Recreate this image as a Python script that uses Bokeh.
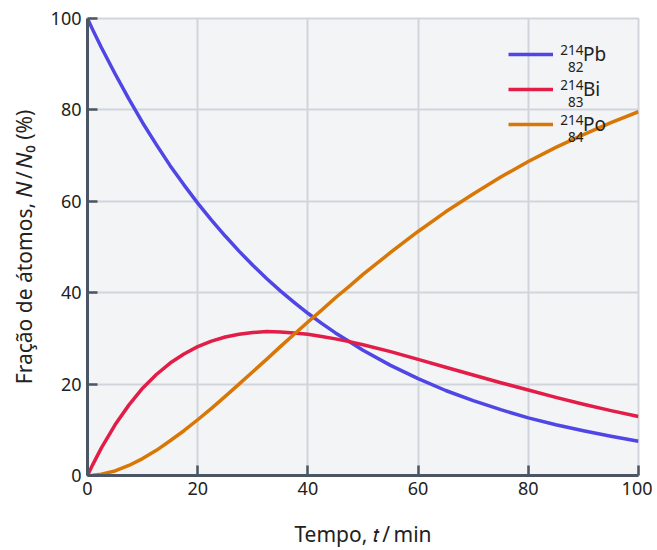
from bokeh.plotting import figure
from bokeh.models import Range1d, Legend, LegendItem, Label, FixedTicker
from bokeh.embed import file_html
from bokeh.resources import INLINE

# Time (min)
t_min = [0, 1, 2.5, 5, 7.5, 10, 12.5, 15, 17.5, 20, 22.5, 25, 27.5, 30, 32.5, 35, 37.5, 40,
         42.5, 45, 47.5, 50, 55, 60, 65, 70, 75, 80, 85, 90, 95, 100]
# Fraction of atoms N/N0 (%)
pb214 = [100, 97.4, 93.7, 87.9, 82.4, 77.2, 72.4, 67.8, 63.6, 59.6, 55.9, 52.4, 49.1, 46.0, 43.1, 40.4, 37.9, 35.5,
         33.3, 31.2, 29.3, 27.4, 24.1, 21.2, 18.6, 16.4, 14.4, 12.6, 11.1, 9.8, 8.6, 7.5]
bi214 = [0, 2.5, 6.0, 11.1, 15.4, 19.1, 22.1, 24.6, 26.6, 28.2, 29.4, 30.3, 30.9, 31.3, 31.5, 31.4, 31.2, 30.9,
         30.4, 29.9, 29.3, 28.6, 27.1, 25.4, 23.7, 22.0, 20.3, 18.7, 17.1, 15.6, 14.2, 12.9]
po214 = [0, 0.04, 0.3, 1.0, 2.2, 3.7, 5.5, 7.6, 9.8, 12.2, 14.7, 17.3, 20.0, 22.7, 25.4, 28.2, 30.9, 33.6,
         36.2, 38.9, 41.4, 44.0, 48.8, 53.4, 57.7, 61.6, 65.3, 68.7, 71.8, 74.6, 77.2, 79.6]

series_names = ["Pb", "Bi", "Po"]
mass_numbers = ["214", "214", "214"]
atomic_numbers = ["82", "83", "84"]
colors = ["#4F46E5", "#E11D48", "#D97706"]
x_ticks = [0, 20, 40, 60, 80, 100]
y_ticks = [0, 20, 40, 60, 80, 100]

FONT = "Noto Sans"
AXIS_C = "#4B5563"
GRID_C = "#D1D5DB"

p = figure(frame_width=551, frame_height=457,
           min_border_left=87, min_border_right=14, min_border_top=18, min_border_bottom=72,
           x_range=Range1d(0, 100), y_range=Range1d(0, 100),
           output_backend="svg", toolbar_location=None)
p.background_fill_color = "#F3F4F6"
p.border_fill_color = "white"
p.outline_line_color = GRID_C
p.outline_line_width = 2

p.xaxis.ticker = FixedTicker(ticks=x_ticks)
p.yaxis.ticker = FixedTicker(ticks=y_ticks)
for ax in (p.xaxis, p.yaxis):
    ax.axis_line_color = AXIS_C
    ax.axis_line_width = 3
    ax.major_tick_line_color = AXIS_C
    ax.major_tick_line_width = 2.5
    ax.major_tick_in = 10
    ax.major_tick_out = 0
    ax.minor_tick_line_color = None
    ax.major_label_text_font = FONT
    ax.major_label_text_font_size = "18px"
    ax.major_label_text_color = "#222222"
    ax.major_label_standoff = 6
    ax.axis_label_text_font = FONT
    ax.axis_label_text_font_size = "21px"
    ax.axis_label_text_font_style = "normal"
    ax.axis_label_text_color = "#222222"

p.xaxis.axis_label = "Tempo, \U0001D461\u2009/\u2009min"
p.xaxis.axis_label_standoff = 22
p.yaxis.axis_label = "Fração de átomos, \U0001D441\u2009/\u2009\U0001D441\u2080 (%)"
p.yaxis.axis_label_standoff = 10

p.xgrid.grid_line_color = GRID_C
p.ygrid.grid_line_color = GRID_C
p.xgrid.grid_line_width = 2
p.ygrid.grid_line_width = 2

renderers = []
for ys, c in zip([pb214, bi214, po214], colors):
    r = p.line(t_min, ys, line_color=c, line_width=3.5, line_join="round")
    renderers.append(r)

legend = Legend(items=[LegendItem(label=n, renderers=[r]) for n, r in zip(series_names, renderers)],
                location=(421, 338), padding=0, margin=0, spacing=9,
                label_height=26, glyph_height=26, glyph_width=45, label_standoff=30,
                label_text_font=FONT, label_text_font_size="19px", label_text_color="#222222",
                border_line_color=None, background_fill_alpha=0)
p.add_layout(legend)

for i, (a, z) in enumerate(zip(mass_numbers, atomic_numbers)):
    p.add_layout(Label(x=496, y=426 - 35 * i, x_units="screen", y_units="screen", text=a,
                       text_align="right", text_baseline="middle", text_font=FONT,
                       text_font_size="13.5px", text_color="#222222"))
    p.add_layout(Label(x=496, y=409 - 35 * i, x_units="screen", y_units="screen", text=z,
                       text_align="right", text_baseline="middle", text_font=FONT,
                       text_font_size="13.5px", text_color="#222222"))

open("out.html", "w").write(file_html(p, INLINE))
